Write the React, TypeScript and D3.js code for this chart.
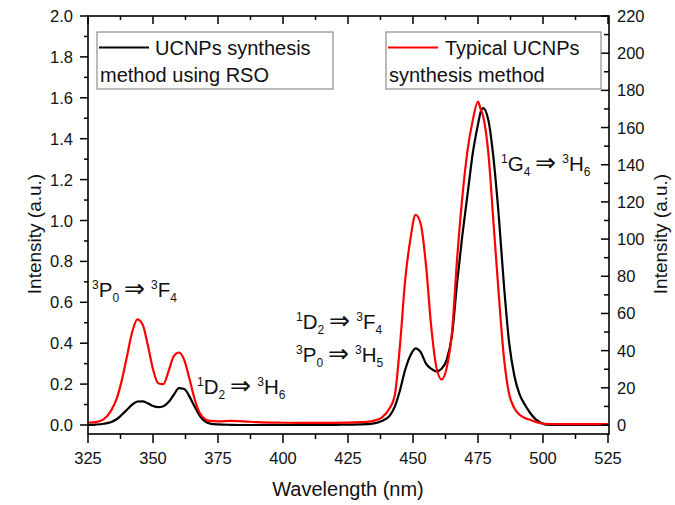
import React from "react";
import * as d3 from "d3";

const wavelengths = [325, 328, 331, 334, 336, 338, 340, 342, 344, 346, 348, 350, 352, 354, 356, 358, 360, 362, 364, 366, 368, 370, 372, 375, 380, 385, 390, 400, 410, 420, 430, 435, 438, 441, 443, 445, 447, 449, 451, 453, 455, 457, 459, 461, 463, 465, 467, 469, 471, 473, 475, 476, 477, 479, 481, 483, 485, 487, 489, 491, 493, 495, 497, 499, 501, 505, 515, 525];

// RSO method (left axis, a.u.)
const rsoValues = [0.0, 0.002, 0.006, 0.015, 0.028, 0.05, 0.075, 0.1, 0.115, 0.116, 0.106, 0.093, 0.087, 0.092, 0.112, 0.148, 0.18, 0.176, 0.14, 0.09, 0.045, 0.018, 0.007, 0.003, 0.001, 0.0, 0.0, 0.0, 0.0, 0.001, 0.003, 0.008, 0.02, 0.045, 0.09, 0.17, 0.27, 0.34, 0.375, 0.355, 0.3, 0.275, 0.262, 0.275, 0.32, 0.44, 0.7, 0.93, 1.13, 1.33, 1.47, 1.53, 1.55, 1.49, 1.3, 1.02, 0.68, 0.4, 0.24, 0.15, 0.1, 0.06, 0.03, 0.012, 0.002, 0.0, 0.0, 0.0];

// Typical method (right axis, a.u.)
const typicalValues = [1.2, 1.5, 3, 8, 14, 24, 37, 50, 56.8, 54, 43, 30, 22.5, 22, 29, 37, 39, 35, 25, 14, 6.5, 3.2, 2.2, 2, 2.2, 2, 1.5, 1.2, 1.1, 1.1, 1.5, 2.3, 4, 9, 16, 43, 78, 100, 113, 108, 86, 53, 31, 24.5, 31, 50, 90, 123, 148, 164, 174, 170, 166, 146, 108, 70, 36, 16.5, 9, 5.5, 3.8, 2.8, 1.8, 1.0, 0.6, 0.5, 0.5, 0.5];

const xTicks = [325, 350, 375, 400, 425, 450, 475, 500, 525];
const leftTicks = [0, 0.2, 0.4, 0.6, 0.8, 1.0, 1.2, 1.4, 1.6, 1.8, 2.0];
const rightTicks = [0, 20, 40, 60, 80, 100, 120, 140, 160, 180, 200, 220];

const seriesNames = ["UCNPs synthesis|method using RSO", "Typical UCNPs|synthesis method"];

const FONT = "'Liberation Sans', Arial, Helvetica, sans-serif";

// transitions: [upper mult, upper letter, upper J, lower mult, lower letter, lower J]
const transitions = [
  ["3", "P", "0", "3", "F", "4"],
  ["1", "D", "2", "3", "H", "6"],
  ["1", "D", "2", "3", "F", "4"],
  ["3", "P", "0", "3", "H", "5"],
  ["1", "G", "4", "3", "H", "6"],
];

const labelPos = [
  { x: 92, y: 297 },
  { x: 197, y: 394 },
  { x: 296, y: 329 },
  { x: 296, y: 362 },
  { x: 501, y: 171 },
];

function Label({ x, y, t }: { x: number; y: number; t: string[] }) {
  return (
    <text x={x} y={y} fontFamily={FONT} fill="#111" fontSize={20.5}>
      <tspan fontSize={12} dy={-8}>{t[0]}</tspan>
      <tspan dy={8}>{t[1]}</tspan>
      <tspan fontSize={12} dy={5}>{t[2]}</tspan>
      <tspan dy={-5} dx={5} fontFamily="'DejaVu Sans', sans-serif" fontSize={25} fontWeight={300}>
        {"\u21D2"}
      </tspan>
      <tspan fontSize={12} dy={-8} dx={6}>{t[3]}</tspan>
      <tspan dy={8}>{t[4]}</tspan>
      <tspan fontSize={12} dy={5}>{t[5]}</tspan>
    </text>
  );
}

export default function App() {
  const W = 675;
  const H = 505;
  const left = 88, right = 609, top = 16, bottom = 434;
  const x = d3.scaleLinear().domain([325, 525]).range([left, right - 1]);
  const yL = d3.scaleLinear().domain([0, 2.0]).range([425, top]);
  const yR = d3.scaleLinear().domain([0, 220]).range([425, top]);

  const lineRso = d3
    .line<number>()
    .x((_, i) => x(wavelengths[i]))
    .y((d) => yL(d))
    .curve(d3.curveMonotoneX);
  const lineTyp = d3
    .line<number>()
    .x((_, i) => x(wavelengths[i]))
    .y((d) => yR(d))
    .curve(d3.curveMonotoneX);

  const xMinor = d3.range(325, 526, 12.5);
  const lMinor = d3.range(0, 2.001, 0.1).filter((v) => yL(v) <= bottom);
  const rMinor = d3.range(0, 221, 10);

  const legends = [
    { x0: 97, x1: 333, color: "#000", name: seriesNames[0], l1x: 155, l2x: 100 },
    { x0: 386, x1: 601, color: "#ff0000", name: seriesNames[1], l1x: 445, l2x: 389 },
  ];

  return (
    <svg width={W} height={H} style={{ position: "absolute", left: 0, top: 0, background: "#fff" }}>
      <rect x={0} y={0} width={W} height={H} fill="#fff" />
      {/* curves */}
      <path d={lineRso(rsoValues) || ""} fill="none" stroke="#000" strokeWidth={2.2} strokeLinejoin="round" />
      <path d={lineTyp(typicalValues) || ""} fill="none" stroke="#ff0000" strokeWidth={2.2} strokeLinejoin="round" />

      {/* frame */}
      <rect x={left} y={top} width={right - left} height={bottom - top} fill="none" stroke="#000" strokeWidth={1.6} />

      {/* bottom & top ticks */}
      {xMinor.map((v, i) => {
        const major = i % 2 === 0;
        const px = x(v);
        return (
          <g key={"xt" + i}>
            <line x1={px} x2={px} y1={bottom} y2={bottom + (major ? 9 : 5)} stroke="#000" strokeWidth={1.5} />
            <line x1={px} x2={px} y1={top} y2={top + (major ? 8 : 4)} stroke="#000" strokeWidth={1.5} />
          </g>
        );
      })}
      {xTicks.map((v) => (
        <text key={"xl" + v} x={x(v)} y={463.5} textAnchor="middle" fontFamily={FONT} fontSize={16.5} fill="#111">
          {v}
        </text>
      ))}

      {/* left ticks */}
      {lMinor.map((v, i) => {
        const major = i % 2 === 0;
        const py = yL(v);
        return <line key={"lt" + i} x1={left - (major ? 8 : 4)} x2={left} y1={py} y2={py} stroke="#000" strokeWidth={1.5} />;
      })}
      {leftTicks.map((v) => (
        <text key={"ll" + v} x={73} y={yL(v) + 6} textAnchor="end" fontFamily={FONT} fontSize={16.5} fill="#111">
          {v.toFixed(1)}
        </text>
      ))}

      {/* right ticks */}
      {rMinor.map((v, i) => {
        const major = i % 2 === 0;
        const py = yR(v);
        return <line key={"rt" + i} x1={right - (major ? 8 : 5)} x2={right} y1={py} y2={py} stroke="#000" strokeWidth={1.5} />;
      })}
      {rightTicks.map((v) => (
        <text key={"rl" + v} x={617} y={yR(v) + 6} textAnchor="start" fontFamily={FONT} fontSize={16.5} fill="#111">
          {v}
        </text>
      ))}

      {/* axis titles */}
      <text x={348} y={496} textAnchor="middle" fontFamily={FONT} fontSize={20} fill="#111">
        Wavelength (nm)
      </text>
      <text transform="translate(41,234) rotate(-90)" textAnchor="middle" fontFamily={FONT} fontSize={19} fill="#111">
        Intensity (a.u.)
      </text>
      <text transform="translate(667,234) rotate(-90)" textAnchor="middle" fontFamily={FONT} fontSize={19} fill="#111">
        Intensity (a.u.)
      </text>

      {/* legends */}
      {legends.map((lg, i) => {
        const [l1, l2] = lg.name.split("|");
        return (
          <g key={"lg" + i}>
            <rect x={lg.x0} y={32} width={lg.x1 - lg.x0} height={57} fill="#fff" stroke="#777" strokeWidth={1} />
            <line x1={lg.x0 + 2} x2={lg.x0 + 52} y1={47.5} y2={47.5} stroke={lg.color} strokeWidth={2} />
            <text x={lg.l1x} y={55} fontFamily={FONT} fontSize={20} fill="#111">
              {l1}
            </text>
            <text x={lg.l2x} y={82} fontFamily={FONT} fontSize={20} fill="#111">
              {l2}
            </text>
          </g>
        );
      })}

      {/* annotations */}
      {transitions.map((t, i) => (
        <Label key={"an" + i} x={labelPos[i].x} y={labelPos[i].y} t={t} />
      ))}
    </svg>
  );
}
